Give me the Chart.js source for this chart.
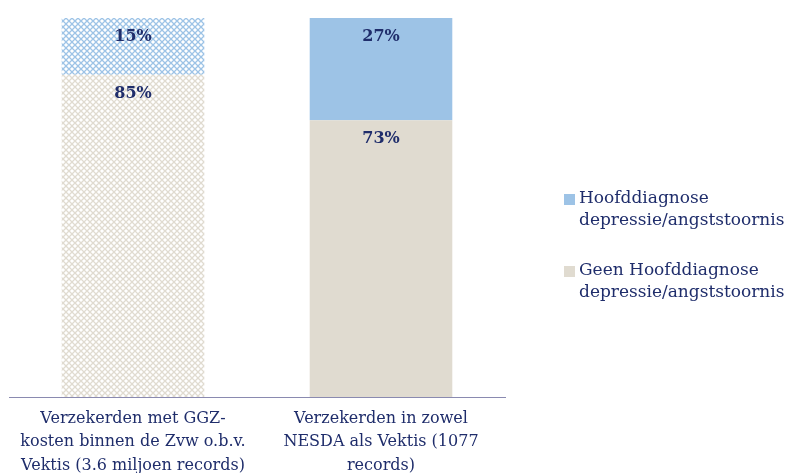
<!DOCTYPE html>
<html>
<head>
<meta charset="utf-8">
<script src="https://cdn.jsdelivr.net/npm/chart.js@4"></script>
<style>
  html, body { margin: 0; padding: 0; background: #fff; }
  #wrap { width: 788px; height: 473px; }
</style>
</head>
<body>
<div id="wrap"><canvas id="myChart" width="788" height="473"></canvas></div>
<script>
// categories (multi-line tick labels) and series values in %
const categories = [
    ['Verzekerden met GGZ-', 'kosten binnen de Zvw o.b.v.', 'Vektis (3.6 miljoen records)'],
    ['Verzekerden in zowel', 'NESDA als Vektis (1077', 'records)']
];
const hoofdLabel = ['Hoofddiagnose', 'depressie/angststoornis'];
const geenLabel = ['Geen Hoofddiagnose', 'depressie/angststoornis'];
const hoofdValues = [15, 27];
const geenValues = [85, 73];

const blue = '#9dc3e6';
const beige = '#e0dbd0';
const navy = '#1f2d6b';
const serif = '"DejaVu Serif", "Liberation Serif", serif';

// cross-hatch pattern for the first bar
function hatch(color) {
    const c = document.createElement('canvas');
    c.width = 6; c.height = 6;
    const g = c.getContext('2d');
    g.fillStyle = '#ffffff';
    g.fillRect(0, 0, 6, 6);
    g.strokeStyle = color;
    g.lineWidth = 1.3;
    g.beginPath();
    g.moveTo(0, 0); g.lineTo(6, 6);
    g.moveTo(6, 0); g.lineTo(0, 6);
    g.stroke();
    return g.createPattern(c, 'repeat');
}
const ctx = document.getElementById('myChart');
const hatchBlue = hatch(blue);
const hatchBeige = hatch(beige);

// labels inside the segments, near the top of each one
const segmentLabels = {
    id: 'segmentLabels',
    afterDatasetsDraw(chart) {
        const c = chart.ctx;
        c.save();
        c.font = 'bold 16px ' + serif;
        c.fillStyle = navy;
        c.textAlign = 'center';
        c.textBaseline = 'middle';
        chart.data.datasets.forEach((ds, i) => {
            chart.getDatasetMeta(i).data.forEach((bar, j) => {
                c.fillText(ds.data[j] + '%', bar.x, bar.y + 19);
            });
        });
        c.restore();
    }
};

// two-line legend on the right
const sideLegend = {
    id: 'sideLegend',
    afterDraw(chart) {
        const c = chart.ctx;
        const items = [
            { color: blue, lines: hoofdLabel, y: 199 },
            { color: beige, lines: geenLabel, y: 271 }
        ];
        c.save();
        c.font = '17px ' + serif;
        c.textBaseline = 'middle';
        c.textAlign = 'left';
        items.forEach(it => {
            c.fillStyle = it.color;
            c.fillRect(564, it.y - 5, 11, 11);
            c.fillStyle = navy;
            it.lines.forEach((t, k) => c.fillText(t, 579, it.y + k * 22));
        });
        c.restore();
    }
};

new Chart(ctx, {
    type: 'bar',
    data: {
        labels: categories,
        datasets: [
            {
                label: geenLabel.join(' '),
                data: geenValues,
                backgroundColor: [hatchBeige, beige],
                barPercentage: 0.575,
                categoryPercentage: 1
            },
            {
                label: hoofdLabel.join(' '),
                data: hoofdValues,
                backgroundColor: [hatchBlue, blue],
                barPercentage: 0.575,
                categoryPercentage: 1
            }
        ]
    },
    options: {
        responsive: false,
        animation: false,
        layout: { padding: { left: 9, right: 283, top: 18, bottom: 0 } },
        scales: {
            x: {
                stacked: true,
                grid: { display: false },
                border: { display: true, color: '#8a8ab0', width: 1 },
                afterFit(scale) { scale.height = 76; },
                ticks: {
                    color: navy,
                    font: { family: serif, size: 16, lineHeight: 1.46 },
                    padding: 2,
                    maxRotation: 0,
                    autoSkip: false
                }
            },
            y: {
                stacked: true,
                display: false,
                min: 0,
                max: 100
            }
        },
        plugins: {
            legend: { display: false },
            tooltip: { enabled: false }
        }
    },
    plugins: [segmentLabels, sideLegend]
});
</script>
</body>
</html>
